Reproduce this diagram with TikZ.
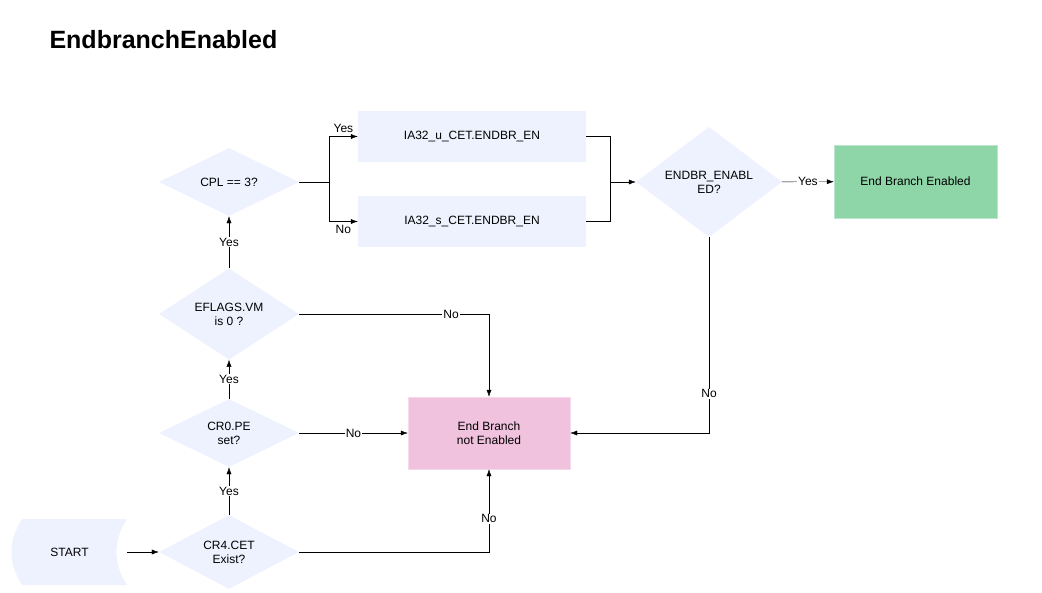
\documentclass[tikz,border=0pt]{standalone}
\usepackage{fontspec}
\setmainfont{Liberation Sans}
\usetikzlibrary{shapes.geometric,arrows.meta}
\definecolor{paleblue}{HTML}{EDF2FE}
\definecolor{okgreen}{HTML}{8ED6A8}
\definecolor{nopink}{HTML}{F0C2DD}
\tikzset{
  dec/.style={diamond, fill=paleblue, minimum width=140pt, minimum height=68pt, inner sep=0pt, align=center, font=\fontsize{12}{14}\selectfont},
  box/.style={rectangle, fill=paleblue, minimum width=228pt, minimum height=51pt, font=\fontsize{12}{14}\selectfont},
  lbl/.style={fill=white, inner sep=1pt, font=\fontsize{12}{14}\selectfont},
  flow/.style={-{Latex[length=7pt,width=5pt]}, black}
}
\begin{document}
\begin{tikzpicture}[x=1pt,y=-1pt]
    \useasboundingbox (0,0) rectangle (1042,592);
    % title
    \node[anchor=west, font=\bfseries\fontsize{25}{30}\selectfont] (title) at (46,40) {EndbranchEnabled};
    % start terminal
    \fill[paleblue] (22,519) -- (127,519) .. controls (113,541) and (113,563) .. (127,585)
        -- (22,585) .. controls (8,563) and (8,541) .. (22,519);
    \node[minimum width=115pt, inner sep=0pt, font=\fontsize{12}{14}\selectfont] (start) at (69.5,552) {START};
    % decisions
    \node[dec] (cr4) at (229,552) {CR4.CET\\Exist?};
    \node[dec] (cr0) at (229,433) {CR0.PE\\set?};
    \node[dec] (vm) at (229,314) {EFLAGS.VM\\is 0 ?};
    \node[dec] (cpl) at (229,182) {CPL == 3?};
    \node[dec, minimum width=146pt, minimum height=90pt] (endbr) at (709,182) {ENDBR\_ENABL\\ED?};
    % boxes
    \node[box] (ucet) at (472,136.5) {IA32\_u\_CET.ENDBR\_EN};
    \node[box] (scet) at (472,221.5) {IA32\_s\_CET.ENDBR\_EN};
    \node[rectangle, fill=okgreen, draw=okgreen!60!white, minimum width=163pt, minimum height=73pt, font=\fontsize{12}{14}\selectfont] (yes) at (915.5,181.5) {End Branch Enabled};
    \node[rectangle, fill=nopink, draw=nopink!60!white, minimum width=162pt, minimum height=72pt, align=center, font=\fontsize{12}{14}\selectfont] (no) at (489,433) {End Branch\\not Enabled};
    % helper points
    \coordinate (split) at (329,182);
    \coordinate (merge) at (610,182);
    % yes chain
    \draw[flow] (start) -- (cr4);
    \draw[flow] (cr4) -- node[lbl] {Yes} (cr0);
    \draw[flow] (cr0) -- node[lbl] {Yes} (vm);
    \draw[flow] (vm) -- node[lbl] {Yes} (cpl);
    % cpl split
    \draw (cpl.east) -- (split);
    \draw[flow] (split) |- (ucet.west) node[pos=0.75, above, font=\fontsize{12}{14}\selectfont] {Yes};
    \draw[flow] (split) |- (scet.west) node[pos=0.75, below, font=\fontsize{12}{14}\selectfont] {No};
    \draw (ucet.east) -| (merge);
    \draw (scet.east) -| (merge);
    \draw[flow] (merge) -- (endbr.west);
    \draw[flow] (endbr) -- node[lbl] {Yes} (yes);
    % no paths
    \draw[flow] (endbr.south) |- node[lbl, pos=0.4] {No} (no.east);
    \draw[flow] (vm.east) -| node[lbl, pos=0.4] {No} (no.north);
    \draw[flow] (cr0.east) -- node[lbl, pos=0.5] {No} (no.west);
    \draw[flow] (cr4.east) -| node[lbl, pos=0.7] {No} (no.south);
\end{tikzpicture}
\end{document}
